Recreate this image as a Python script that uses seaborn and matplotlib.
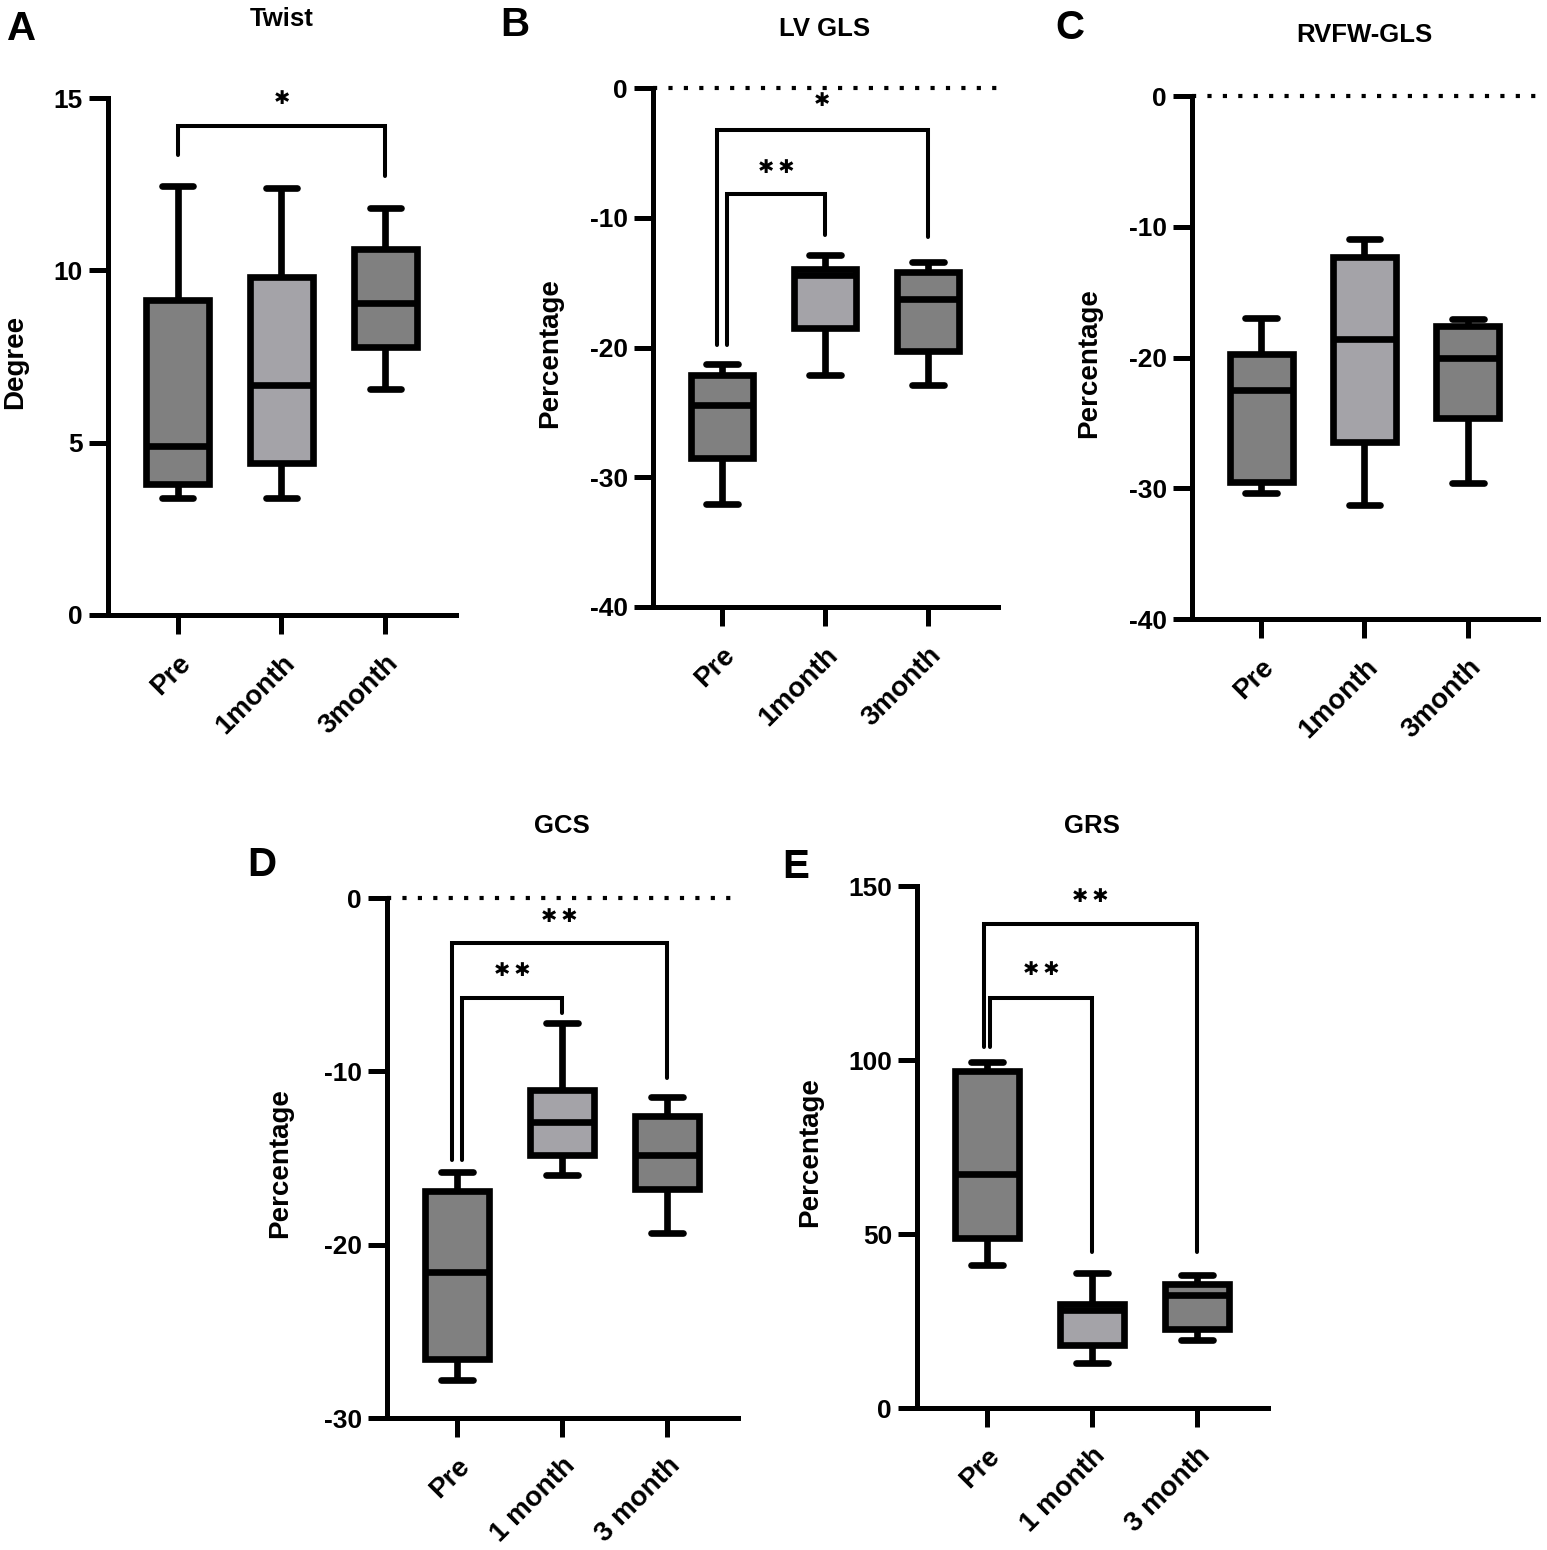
import numpy as np
import pandas as pd
import seaborn as sns
import matplotlib.pyplot as plt

# categories
groups_top = ["Pre", "1month", "3month"]
groups_bottom = ["Pre", "1 month", "3 month"]

# five-number summaries (min, Q1, median, Q3, max)
twist = [[3.4, 3.8, 4.9, 9.15, 12.45],
         [3.4, 4.4, 6.67, 9.8, 12.4],
         [6.55, 7.77, 9.05, 10.62, 11.8]]
lv_gls = [[-32.1, -28.5, -24.4, -22.15, -21.3],
          [-22.1, -18.5, -14.4, -13.98, -12.85],
          [-22.9, -20.3, -16.3, -14.2, -13.4]]
rvfw_gls = [[-30.4, -29.55, -22.45, -19.7, -16.95],
            [-31.3, -26.5, -18.6, -12.35, -10.95],
            [-29.6, -24.65, -20.05, -17.6, -17.05]]
gcs = [[-27.8, -26.6, -21.6, -16.9, -15.8],
       [-16.0, -14.8, -12.95, -11.1, -7.2],
       [-19.3, -16.8, -14.85, -12.6, -11.5]]
grs = [[41.1, 48.8, 67.3, 96.8, 99.5],
       [12.9, 18.0, 28.1, 30.0, 38.7],
       [19.4, 22.8, 32.5, 35.5, 38.3]]

# significance brackets: (left x, right x, bar y, left leg end, right leg end, stars, star y)
brackets_a = [(0, 2, 14.2, 13.35, 12.75, 1, 15.0)]
brackets_b = [(-0.05, 2, -3.2, -19.8, -11.5, 1, -1.0),
              (0.05, 1, -8.2, -19.8, -11.3, 2, -6.1)]
brackets_d = [(-0.05, 2, -2.58, -15.1, -10.4, 2, -1.05),
              (0.05, 1, -5.77, -15.1, -6.65, 2, -4.2)]
brackets_e = [(-0.035, 2, 139.2, 103.7, 44.9, 2, 147.0),
              (0.025, 1, 117.8, 103.7, 44.9, 2, 126.0)]

box_colors = ["#808080", "#a4a3a8", "#808080"]

W, H = 1547, 1550
sns.set_style("ticks")
plt.rcParams["font.family"] = ["Liberation Sans", "DejaVu Sans"]
plt.rcParams["font.weight"] = "bold"
plt.rcParams["axes.labelweight"] = "bold"
plt.rcParams["axes.unicode_minus"] = False
for k in ["text.color", "axes.labelcolor", "xtick.color", "ytick.color", "axes.edgecolor"]:
    plt.rcParams[k] = "black"

fig = plt.figure(figsize=(W / 100, H / 100), dpi=100)


def make_ax(l, t, r, b):
    return fig.add_axes([l / W, 1 - b / H, (r - l) / W, (b - t) / H])


def panel(box, groups, summary, ylim, yticks, ylabel, label_x, brackets, zero_line):
    ax = make_ax(*box)
    df = pd.DataFrame({"group": np.repeat(groups, 5),
                       "value": np.concatenate(summary)})
    sns.boxplot(data=df, x="group", y="value", hue="group", order=groups,
                hue_order=groups, palette=box_colors, saturation=1,
                whis=(0, 100), width=0.61, linewidth=4.8, linecolor="black",
                legend=False, ax=ax)
    ax.set_xlim(-0.67, 2.68)
    ax.set_ylim(*ylim)
    ax.set_yticks(yticks)
    ax.set_xlabel("")
    ax.set_ylabel(ylabel, fontsize=20, fontweight="bold")
    ax.yaxis.set_label_coords(label_x, 0.49)
    for s in ["top", "right"]:
        ax.spines[s].set_visible(False)
    for s in ["left", "bottom"]:
        ax.spines[s].set_linewidth(3.6)
    ax.tick_params(axis="both", length=14, width=3.6, labelsize=19, colors="black")
    ax.tick_params(axis="y", pad=4)
    ax.tick_params(axis="x", pad=11)
    for t in ax.get_yticklabels():
        t.set_fontweight("bold")
    for t in ax.get_xticklabels():
        t.set_fontweight("bold")
        t.set_fontsize(20)
        t.set_rotation(45)
        t.set_ha("right")
        t.set_rotation_mode("anchor")
    if zero_line:
        ax.axhline(0, color="black", lw=3.0, ls=(0, (1, 2.7)), clip_on=False)
    for x1, x2, yb, yl, yr, n, ty in brackets:
        ax.plot([x1, x1, x2, x2], [yl, yb, yb, yr], color="black", lw=2.9,
                solid_joinstyle="miter", clip_on=False)
        ax.text((x1 + x2) / 2, ty, "\u2009".join(["\u2731"] * n), ha="center",
                va="center", fontsize=14, family="DejaVu Sans")
    return ax


panel((108, 98, 456, 615), groups_top, twist, (0, 15), [0, 5, 10, 15],
      "Degree", -0.23, brackets_a, False)
panel((653, 88, 998, 607), groups_top, lv_gls, (-40, 0), [-40, -30, -20, -10, 0],
      "Percentage", -0.26, brackets_b, True)
panel((1192, 96, 1538, 619), groups_top, rvfw_gls, (-40, 0), [-40, -30, -20, -10, 0],
      "Percentage", -0.26, [], True)
panel((387, 898, 738, 1418), groups_bottom, gcs, (-30, 0), [-30, -20, -10, 0],
      "Percentage", -0.268, brackets_d, True)
panel((917, 886, 1268, 1408), groups_bottom, grs, (0, 150), [0, 50, 100, 150],
      "Percentage", -0.268, brackets_e, False)

# panel titles and letters
titles = [("Twist", 282, 19), ("LV GLS", 825, 29), ("RVFW-GLS", 1364, 35),
          ("GCS", 562, 826), ("GRS", 1092, 826)]
for txt, x, y in titles:
    fig.text(x / W, 1 - y / H, txt, ha="center", va="center", fontsize=18.5,
             fontweight="bold")
letters = [("A", 7, 29), ("B", 500, 25), ("C", 1055, 28), ("D", 247, 865), ("E", 782, 867)]
for txt, x, y in letters:
    fig.text(x / W, 1 - y / H, txt, ha="left", va="center", fontsize=29,
             fontweight="bold")

fig.savefig("out.png", dpi=100, facecolor="white")
